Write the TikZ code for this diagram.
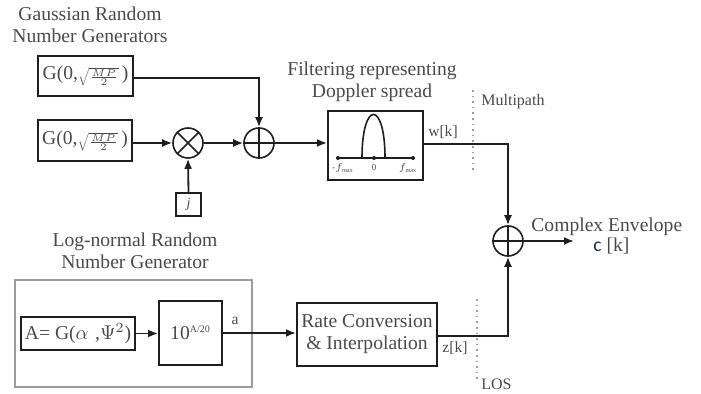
\documentclass[tikz,border=0pt]{standalone}
\usepackage{amsmath}
\usepackage{fontspec}
\setmainfont{Liberation Serif}
\newfontfamily\calfont{Carlito}
\usepackage{xcolor}
\usepackage{tikz}
\usetikzlibrary{arrows.meta, calc}
\definecolor{txtgray}{HTML}{4A4A4A}
\definecolor{linegray}{HTML}{1E1E1E}
\definecolor{framegray}{HTML}{9C9C9C}
\definecolor{envblue}{HTML}{1C2E4A}

\newcommand{\gsig}{G(0,{\fontsize{5}{6}\selectfont$\sqrt{\frac{MP}{2}}$}\,)}

\tikzset{
  blk/.style={draw=linegray, line width=1pt, text=txtgray, inner sep=0pt,
              font=\fontsize{9.8}{11}\selectfont},
  sumnode/.style={draw=linegray, circle, line width=0.8pt, minimum size=15pt,
                  inner sep=0pt},
  sig/.style={draw=linegray, line width=0.9pt, -{Latex[length=5pt, width=4pt]}},
  lbl/.style={text=txtgray, font=\fontsize{9.8}{11}\selectfont, align=center,
              inner sep=0pt},
  tag/.style={text=txtgray, font=\fontsize{7.8}{9}\selectfont, inner sep=0pt},
  sep/.style={framegray, line width=0.8pt, dotted}
}

\begin{document}
\begin{tikzpicture}[x=0.5pt, y=-0.5pt]
  \useasboundingbox (0,0) rectangle (701,394);

  %% Gaussian generators
  \node[lbl] (gtitle) at (90,25) {Gaussian Random\\Number Generators};
  \node[blk, minimum width=47.5pt, minimum height=20pt] (gone) at (85.5,76) {\gsig};
  \node[blk, minimum width=47pt, minimum height=20.5pt] (gtwo) at (85,141) {\gsig};

  %% multiplier, j input and first adder
  \node[sumnode] (mult) at (188,143) {};
  \draw[linegray, line width=0.8pt] (mult.45) -- (mult.225) (mult.135) -- (mult.-45);
  \node[blk, line width=0.8pt, minimum width=12.5pt, minimum height=11.5pt,
        font=\fontsize{7}{8}\selectfont\itshape] (jbox) at (188.5,204.5) {j};
  \node[sumnode] (addone) at (259,143) {};
  \draw[linegray, line width=0.8pt] (addone.north) -- (addone.south)
    (addone.west) -- (addone.east);

  %% Doppler filter
  \node[lbl] (ftitle) at (372,82) {Filtering representing\\Doppler spread};
  \node[blk, minimum width=47.5pt, minimum height=34.5pt] (filt) at (375.5,145.5) {};
  \draw[linegray, line width=0.8pt] (338,158) -- (413,158);
  \foreach \x in {338,374,413} {
    \fill[linegray] (\x,158) circle (1pt);
  }
  \draw[linegray, line width=0.8pt]
    (362,158) .. controls (362,100) and (385,100) .. (385,158);
  \node[tag, font=\fontsize{4.5}{5}\selectfont] (fneg) at (343,168) {-$f_{\max}$};
  \node[tag, font=\fontsize{4.5}{5}\selectfont] (fzero) at (374,168) {0};
  \node[tag, font=\fontsize{4.5}{5}\selectfont] (fpos) at (408,168) {$f_{\max}$};

  %% output adder
  \node[sumnode] (addtwo) at (508,241) {};
  \draw[linegray, line width=0.8pt] (addtwo.north) -- (addtwo.south)
    (addtwo.west) -- (addtwo.east);
  \coordinate (cout) at (574,241);
  \node[lbl, anchor=west] (envtitle) at (531,227) {Complex Envelope};
  \node[lbl, anchor=west] (envsig) at (593,246)
    {{\calfont\color{envblue}c} [k]};

  %% Log-normal generator
  \node[lbl] (lntitle) at (135,251) {Log-normal Random\\Number Generator};
  \draw[framegray, line width=0.8pt] (15,280) rectangle (252,387);
  \node[blk, minimum width=57pt, minimum height=16.5pt] (abox) at (78,333.5)
    {A= G($\alpha$\,\,,$\Psi^2$)};
  \node[blk, minimum width=31.5pt, minimum height=32pt] (pbox) at (190.5,333)
    {10\textsuperscript{\fontsize{5}{6}\selectfont A/20}};
  \node[blk, minimum width=70pt, minimum height=31.5pt, align=center] (rate)
    at (367,334.5) {Rate Conversion\\ \& Interpolation};

  %% signal labels
  \node[tag] (wk) at (443,132) {w[k]};
  \node[tag] (alab) at (235,321) {a};
  \node[tag] (zk) at (455,348) {z[k]};

  %% Multipath / LOS separators
  \draw[sep] (473,90) -- (473,173);
  \node[tag, anchor=west, font=\fontsize{8}{9}\selectfont] (mpath) at (481,102) {Multipath};
  \draw[sep] (477,299) -- (477,380);
  \node[tag, anchor=west, font=\fontsize{8}{9}\selectfont] (los) at (481,384) {LOS};

  %% connections
  \draw[sig] (gone.east |- 0,78) -| (addone.north);
  \draw[sig] (gtwo.east |- mult.west) -- (mult.west);
  \draw[sig] (jbox.north) -- (mult.south);
  \draw[sig] (mult.east) -- (addone.west);
  \draw[sig] (addone.east) -- (filt.west |- addone.east);
  \draw[sig] (filt.east |- 0,144) -| (addtwo.north);
  \draw[sig] (abox.east) -- (pbox.west |- abox.east);
  \draw[sig] (pbox.east) -- (rate.west |- pbox.east);
  \draw[sig] (rate.east |- 0,336) -| (addtwo.south);
  \draw[sig] (addtwo.east) -- (cout);
\end{tikzpicture}
\end{document}
